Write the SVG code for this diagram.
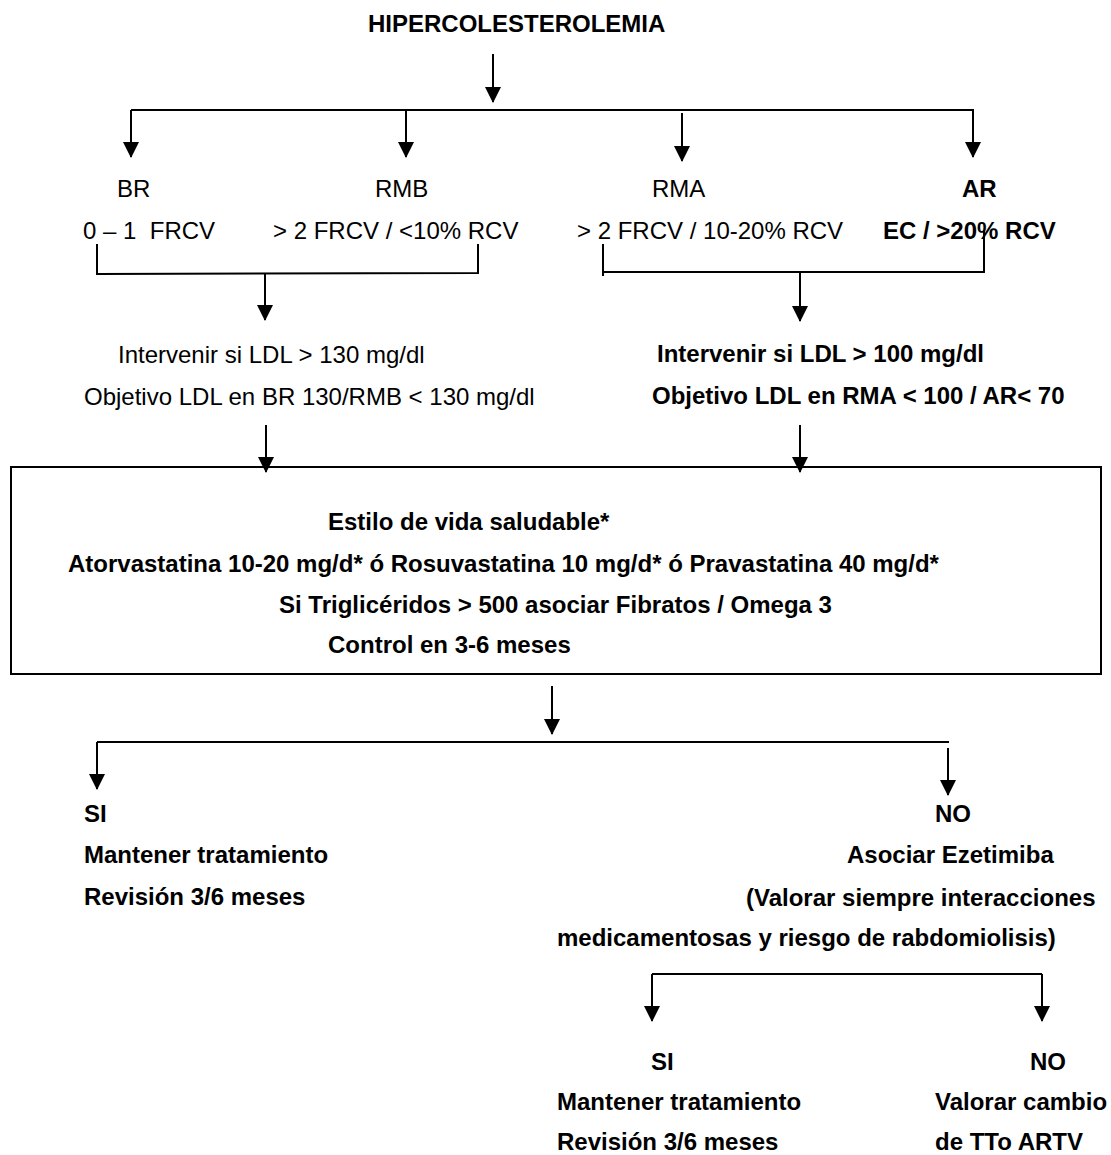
<svg xmlns="http://www.w3.org/2000/svg" width="1111" height="1155" viewBox="0 0 1111 1155">
<style>
text{font-family:"Liberation Sans",Arial,sans-serif;font-size:24px;fill:#000}
.b{font-weight:bold}
.ln{stroke:#000;stroke-width:2;fill:none}
</style>
<defs>
<marker id="ah" markerUnits="userSpaceOnUse" markerWidth="16" markerHeight="16" refX="15" refY="8" orient="auto" viewBox="0 0 16 16">
<path d="M0,0 L16,8 L0,16 z" fill="#000"/>
</marker>
</defs>
<rect width="1111" height="1155" fill="#fff"/>
<g id="connectors">
<line class="ln" x1="493" y1="54" x2="493" y2="102" marker-end="url(#ah)"/>
<polyline class="ln" points="131,110 974,110"/>
<line class="ln" x1="131" y1="110" x2="131" y2="157" marker-end="url(#ah)"/>
<line class="ln" x1="406" y1="110" x2="406" y2="157" marker-end="url(#ah)"/>
<line class="ln" x1="682" y1="113" x2="682" y2="161" marker-end="url(#ah)"/>
<line class="ln" x1="973" y1="110" x2="973" y2="157" marker-end="url(#ah)"/>
<polyline class="ln" points="97,244 97,274 478,273 478,244"/>
<line class="ln" x1="265" y1="273" x2="265" y2="320" marker-end="url(#ah)"/>
<polyline class="ln" points="603,244 603,276"/>
<polyline class="ln" points="603,272 984,272 984,230"/>
<line class="ln" x1="800" y1="272" x2="800" y2="321" marker-end="url(#ah)"/>
<line class="ln" x1="266" y1="425" x2="266" y2="472" marker-end="url(#ah)"/>
<line class="ln" x1="800" y1="425" x2="800" y2="472" marker-end="url(#ah)"/>
<line class="ln" x1="552" y1="686" x2="552" y2="734" marker-end="url(#ah)"/>
<polyline class="ln" points="97,742 949,742"/>
<line class="ln" x1="97" y1="742" x2="97" y2="789" marker-end="url(#ah)"/>
<line class="ln" x1="948" y1="748" x2="948" y2="795" marker-end="url(#ah)"/>
<polyline class="ln" points="652,974 1042,974"/>
<line class="ln" x1="652" y1="974" x2="652" y2="1021" marker-end="url(#ah)"/>
<line class="ln" x1="1042" y1="974" x2="1042" y2="1021" marker-end="url(#ah)"/>
</g>
<g id="n-title"><text class="b" x="368" y="32">HIPERCOLESTEROLEMIA</text></g>
<g id="n-br"><text x="117" y="197">BR</text><text x="83" y="239" xml:space="preserve">0 – 1  FRCV</text></g>
<g id="n-rmb"><text x="375" y="197">RMB</text><text x="273" y="239">&gt; 2 FRCV / &lt;10% RCV</text></g>
<g id="n-rma"><text x="652" y="197">RMA</text><text x="577" y="239">&gt; 2 FRCV / 10-20% RCV</text></g>
<g id="n-ar"><text class="b" x="962" y="197">AR</text><text class="b" x="883" y="239">EC / &gt;20% RCV</text></g>
<g id="n-low"><text x="118" y="363">Intervenir si LDL &gt; 130 mg/dl</text><text x="84" y="405">Objetivo LDL en BR 130/RMB &lt; 130 mg/dl</text></g>
<g id="n-high"><text class="b" x="657" y="362">Intervenir si LDL &gt; 100 mg/dl</text><text class="b" x="652" y="404">Objetivo LDL en RMA &lt; 100 / AR&lt; 70</text></g>
<g id="n-treat">
<rect x="11" y="467" width="1090" height="207" fill="none" stroke="#000" stroke-width="2"/>
<text class="b" x="328" y="530">Estilo de vida saludable*</text>
<text class="b" x="68" y="572">Atorvastatina 10-20 mg/d* ó Rosuvastatina 10 mg/d* ó Pravastatina 40 mg/d*</text>
<text class="b" x="279" y="613">Si Triglicéridos &gt; 500 asociar Fibratos / Omega 3</text>
<text class="b" x="328" y="653">Control en 3-6 meses</text>
</g>
<g id="n-si1"><text class="b" x="84" y="822">SI</text><text class="b" x="84" y="863">Mantener tratamiento</text><text class="b" x="84" y="905">Revisión 3/6 meses</text></g>
<g id="n-no1"><text class="b" x="935" y="822">NO</text><text class="b" x="847" y="863">Asociar Ezetimiba</text><text class="b" x="746" y="906">(Valorar siempre interacciones</text><text class="b" x="557" y="946">medicamentosas y riesgo de rabdomiolisis)</text></g>
<g id="n-si2"><text class="b" x="651" y="1070">SI</text><text class="b" x="557" y="1110">Mantener tratamiento</text><text class="b" x="557" y="1150">Revisión 3/6 meses</text></g>
<g id="n-no2"><text class="b" x="1030" y="1070">NO</text><text class="b" x="935" y="1110">Valorar cambio</text><text class="b" x="935" y="1150">de TTo ARTV</text></g>
</svg>
